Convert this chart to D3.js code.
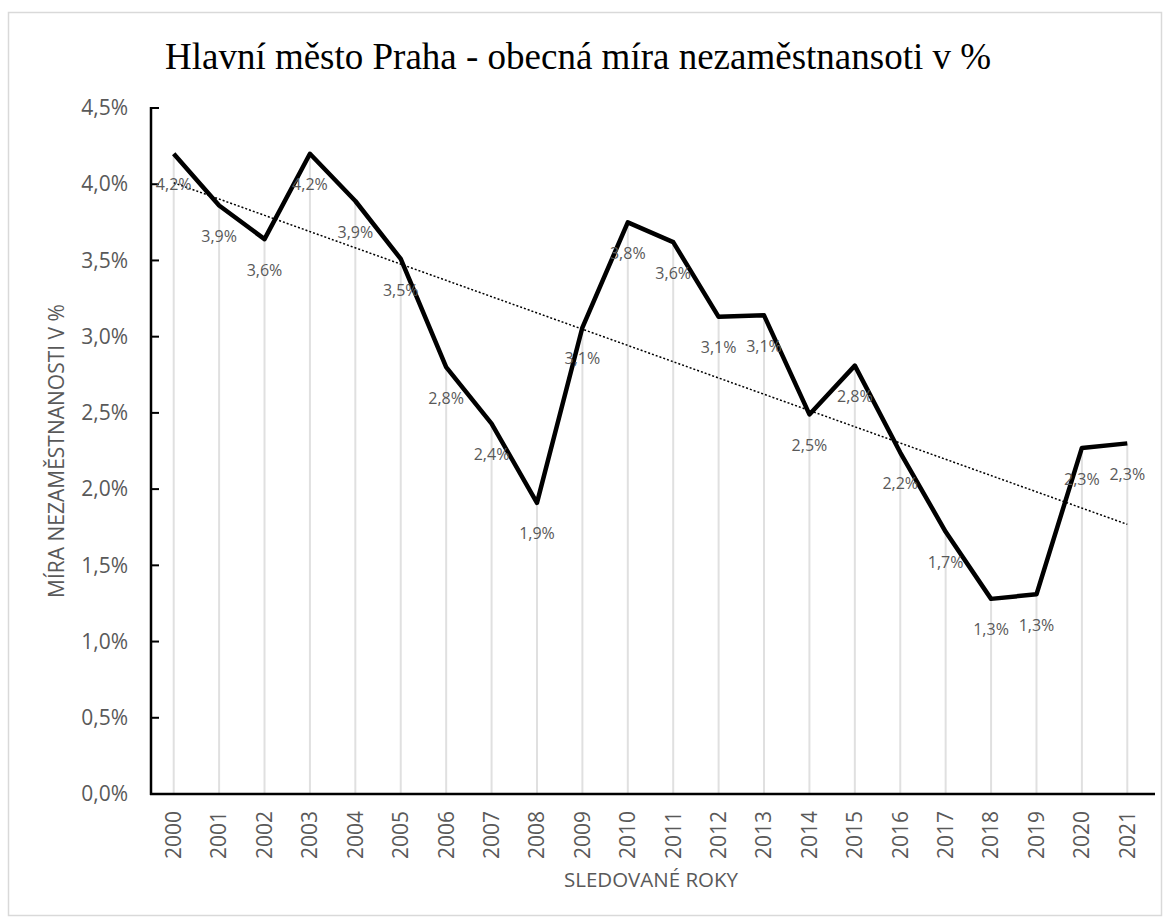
<!DOCTYPE html>
<html>
<head>
<meta charset="utf-8">
<script src="https://cdn.jsdelivr.net/npm/d3@7"></script>
<style>
  body { margin: 0; background: #fff; }
  svg text { font-family: "Open Sans", "Noto Sans", sans-serif; }
</style>
</head>
<body>
<div id="chart"></div>
<script>
// data
var years = ["2000","2001","2002","2003","2004","2005","2006","2007","2008","2009","2010",
             "2011","2012","2013","2014","2015","2016","2017","2018","2019","2020","2021"];
var rate = [4.20, 3.86, 3.64, 4.20, 3.89, 3.51, 2.80, 2.43, 1.91, 3.06, 3.75,
            3.62, 3.13, 3.14, 2.49, 2.81, 2.24, 1.72, 1.28, 1.31, 2.27, 2.30];
var yTicks = [0, 0.5, 1, 1.5, 2, 2.5, 3, 3.5, 4, 4.5];

var svgWidth = 1170;
var svgHeight = 924;
var margin = {top: 108, right: 20, bottom: 130, left: 151};
var width = 1150 - margin.left;
var height = 794 - margin.top;

var svg = d3.select("#chart").append("svg")
    .attr("width", svgWidth).attr("height", svgHeight);

// outer frame
svg.append("rect")
    .attr("x", 8.5).attr("y", 12.5)
    .attr("width", 1153).attr("height", 903)
    .attr("fill", "#fff").attr("stroke", "#d9d9d9").attr("stroke-width", 1.5);

svg.append("text")
    .attr("x", 578).attr("y", 69)
    .attr("text-anchor", "middle")
    .style("font-family", "'Liberation Serif', 'Times New Roman', serif")
    .style("font-size", "37px")
    .attr("fill", "#000")
    .text("Hlavní město Praha - obecná míra nezaměstnansoti v %");

var chartGroup = svg.append("g").attr("transform", `translate(${margin.left}, ${margin.top})`);

var x = d3.scaleBand().domain(years).range([0, width]);
var y = d3.scaleLinear().domain([0, 4.5]).range([height, 0]);
var cx = d => x(d) + x.bandwidth() / 2;

var fmt = v => d3.format(".1f")(v).replace(".", ",") + "%";

// drop lines from each point to the axis
chartGroup.selectAll(".drop")
    .data(years)
    .enter().append("line")
    .attr("x1", d => cx(d)).attr("x2", d => cx(d))
    .attr("y1", height).attr("y2", (d, i) => y(rate[i]))
    .attr("stroke", "#e0e0e0").attr("stroke-width", 2);

// y axis
var leftAxis = d3.axisLeft(y).tickValues(yTicks).tickSize(0).tickPadding(23).tickFormat(fmt);
var yg = chartGroup.append("g").call(leftAxis);
yg.select(".domain").remove();
yg.selectAll("text").attr("fill", "#595959").style("font-size", "21px");

chartGroup.selectAll(".ytick")
    .data(yTicks)
    .enter().append("line")
    .attr("x1", 0).attr("x2", 8)
    .attr("y1", d => y(d)).attr("y2", d => y(d))
    .attr("stroke", "#000").attr("stroke-width", 2);

chartGroup.append("line")
    .attr("x1", 0).attr("x2", 0).attr("y1", -1).attr("y2", height + 1)
    .attr("stroke", "#000").attr("stroke-width", 2.5);

// x axis
var bottomAxis = d3.axisBottom(x).tickSize(0).tickPadding(0);
var xg = chartGroup.append("g").attr("transform", `translate(0, ${height})`).call(bottomAxis);
xg.select(".domain").remove();
xg.selectAll("text")
    .attr("transform", "rotate(-90)")
    .attr("x", -17).attr("y", 0).attr("dy", "0.35em")
    .attr("text-anchor", "end")
    .attr("fill", "#595959").style("font-size", "21px");

chartGroup.append("line")
    .attr("x1", -1).attr("x2", width + 5).attr("y1", height).attr("y2", height)
    .attr("stroke", "#000").attr("stroke-width", 2.5);

// linear trend
var idx = d3.range(rate.length);
var mx = d3.mean(idx), my = d3.mean(rate);
var slope = d3.sum(idx, i => (i - mx) * (rate[i] - my)) / d3.sum(idx, i => (i - mx) * (i - mx));
var icpt = my - slope * mx;
chartGroup.append("line")
    .attr("x1", cx(years[0])).attr("y1", y(icpt))
    .attr("x2", cx(years[years.length - 1])).attr("y2", y(icpt + slope * (years.length - 1)))
    .attr("stroke", "#000").attr("stroke-width", 1.5).attr("stroke-dasharray", "2,2");

// main line
var line = d3.line().x((d, i) => cx(years[i])).y(d => y(d));
chartGroup.append("path")
    .datum(rate)
    .attr("d", line)
    .attr("fill", "none").attr("stroke", "#000").attr("stroke-width", 4.5)
    .attr("stroke-linejoin", "round");

// data labels
chartGroup.selectAll(".lbl")
    .data(rate)
    .enter().append("text")
    .attr("x", (d, i) => cx(years[i]))
    .attr("y", d => y(d) + 31)
    .attr("dy", "0.35em")
    .attr("text-anchor", "middle")
    .attr("fill", "#595959").style("font-size", "16px")
    .text(fmt);

// axis titles
svg.append("text")
    .attr("x", 651).attr("y", 880)
    .attr("dy", "0.35em")
    .attr("text-anchor", "middle")
    .attr("fill", "#595959").style("font-size", "20.5px")
    .text("SLEDOVANÉ ROKY");

svg.append("text")
    .attr("transform", "translate(57, 451) rotate(-90)")
    .attr("dy", "0.35em")
    .attr("text-anchor", "middle")
    .attr("fill", "#595959").style("font-size", "21px")
    .text("MÍRA NEZAMĚSTNANOSTI V %");
</script>
</body>
</html>
